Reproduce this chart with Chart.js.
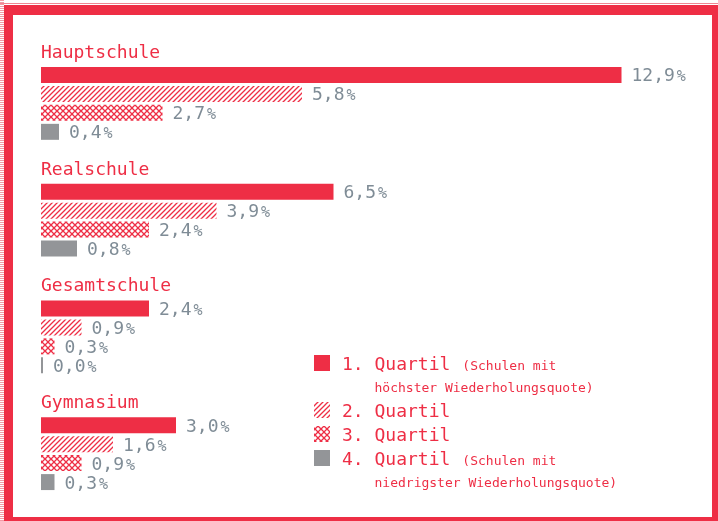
<!DOCTYPE html>
<html>
<head>
<meta charset="utf-8">
<script src="https://cdn.jsdelivr.net/npm/chart.js@4/dist/chart.umd.min.js"></script>
<style>
  body { margin: 0; width: 718px; height: 521px; overflow: hidden; background: #fff; position: relative; }
  #stripe { position: absolute; left: 0; top: 0; width: 4px; height: 521px;
    background: repeating-linear-gradient(to bottom, #f39aa5 0 1px, #fff 1px 2px); }
  #topline { position: absolute; left: 0; top: 3px; width: 718px; height: 1px; background: #f08793; }
  #frame { position: absolute; left: 4px; top: 5px; width: 714px; height: 516px; box-sizing: border-box;
    border-style: solid; border-color: #ee2e45; border-width: 10px 6px 4px 9px; background: #fff; }
  #chart { position: absolute; left: 0; top: 0; }
</style>
</head>
<body>
<div id="stripe"></div>
<div id="topline"></div>
<div id="frame"></div>
<canvas id="chart" width="718" height="521"></canvas>
<script>
const categories = ['Hauptschule', 'Realschule', 'Gesamtschule', 'Gymnasium'];
const quartil1 = [12.9, 6.5, 2.4, 3.0];
const quartil2 = [5.8, 3.9, 0.9, 1.6];
const quartil3 = [2.7, 2.4, 0.3, 0.9];
const quartil4 = [0.4, 0.8, 0.0, 0.3];
const quartilLabels = ['1. Quartil', '2. Quartil', '3. Quartil', '4. Quartil'];
const quartilNotes = [
  ['(Schulen mit', 'höchster Wiederholungsquote)'],
  null,
  null,
  ['(Schulen mit', 'niedrigster Wiederholungsquote)']
];

const RED = '#ee2e45';
const GREY = '#939598';
const TEXT_GREY = '#7f8c96';
const MONO = '"DejaVu Sans Mono", "Liberation Mono", monospace';

function hatchPattern() {
  const c = document.createElement('canvas');
  c.width = c.height = 5;
  const g = c.getContext('2d');
  g.strokeStyle = RED;
  g.lineWidth = 1.3;
  g.beginPath();
  g.moveTo(0, 5); g.lineTo(5, 0);
  g.moveTo(-1, 1); g.lineTo(1, -1);
  g.moveTo(4, 6); g.lineTo(6, 4);
  g.stroke();
  return g.createPattern(c, 'repeat');
}

function crossPattern() {
  const c = document.createElement('canvas');
  c.width = c.height = 6;
  const g = c.getContext('2d');
  g.strokeStyle = RED;
  g.lineWidth = 1.3;
  g.beginPath();
  g.moveTo(0, 0); g.lineTo(6, 6);
  g.moveTo(0, 6); g.lineTo(6, 0);
  g.stroke();
  return g.createPattern(c, 'repeat');
}

const fills = [RED, hatchPattern(), crossPattern(), GREY];

// group titles above each block of bars
const groupTitles = {
  id: 'groupTitles',
  afterDatasetsDraw(chart) {
    const ctx = chart.ctx;
    const y = chart.scales.y;
    ctx.save();
    ctx.font = '18px ' + MONO;
    ctx.fillStyle = RED;
    ctx.textBaseline = 'alphabetic';
    categories.forEach((c, i) => {
      ctx.fillText(c, chart.chartArea.left, y.getPixelForValue(i) - 45.5);
    });
    ctx.restore();
  }
};

// value labels at bar ends, e.g. "12,9 %"
const valueLabels = {
  id: 'valueLabels',
  afterDatasetsDraw(chart) {
    const ctx = chart.ctx;
    ctx.save();
    ctx.fillStyle = TEXT_GREY;
    ctx.textBaseline = 'alphabetic';
    chart.data.datasets.forEach((ds, di) => {
      chart.getDatasetMeta(di).data.forEach((bar, i) => {
        const num = ds.data[i].toFixed(1).replace('.', ',');
        const x = bar.x + 10;
        const y = bar.y + 6.5;
        ctx.font = '18px ' + MONO;
        ctx.fillText(num, x, y);
        const w = ctx.measureText(num).width;
        ctx.font = '15px ' + MONO;
        ctx.fillText('%', x + w + 2, y);
      });
    });
    ctx.restore();
  }
};

// legend in the lower right
const sideLegend = {
  id: 'sideLegend',
  afterDraw(chart) {
    const ctx = chart.ctx;
    const x0 = 314, tx = 342;
    let y = 370;
    ctx.save();
    ctx.textBaseline = 'alphabetic';
    quartilLabels.forEach((lab, i) => {
      ctx.fillStyle = fills[i];
      ctx.fillRect(x0, y - 15, 16, 16);
      ctx.fillStyle = RED;
      ctx.font = '18px ' + MONO;
      ctx.fillText(lab, tx, y);
      const note = quartilNotes[i];
      if (note) {
        const w = ctx.measureText(lab).width;
        const indent = ctx.measureText(lab.slice(0, 3)).width;
        ctx.font = '13px ' + MONO;
        ctx.fillText(note[0], tx + w + 12, y);
        ctx.fillText(note[1], tx + indent, y + 22);
        y += 23;
      }
      y += 24;
    });
    ctx.restore();
  }
};

new Chart(document.getElementById('chart'), {
  type: 'bar',
  data: {
    labels: categories,
    datasets: [quartil1, quartil2, quartil3, quartil4].map((d, i) => ({
      label: quartilLabels[i],
      data: d,
      backgroundColor: fills[i],
      borderWidth: 0,
      minBarLength: 2,
      barPercentage: 0.842,
      categoryPercentage: 0.65
    }))
  },
  options: {
    indexAxis: 'y',
    responsive: false,
    animation: false,
    devicePixelRatio: 1,
    layout: { padding: { left: 41, right: 47, top: 45, bottom: 9 } },
    scales: {
      x: { display: false, min: 0, max: 14 },
      y: { display: false }
    },
    plugins: {
      legend: { display: false },
      tooltip: { enabled: false }
    }
  },
  plugins: [groupTitles, valueLabels, sideLegend]
});
</script>
</body>
</html>
